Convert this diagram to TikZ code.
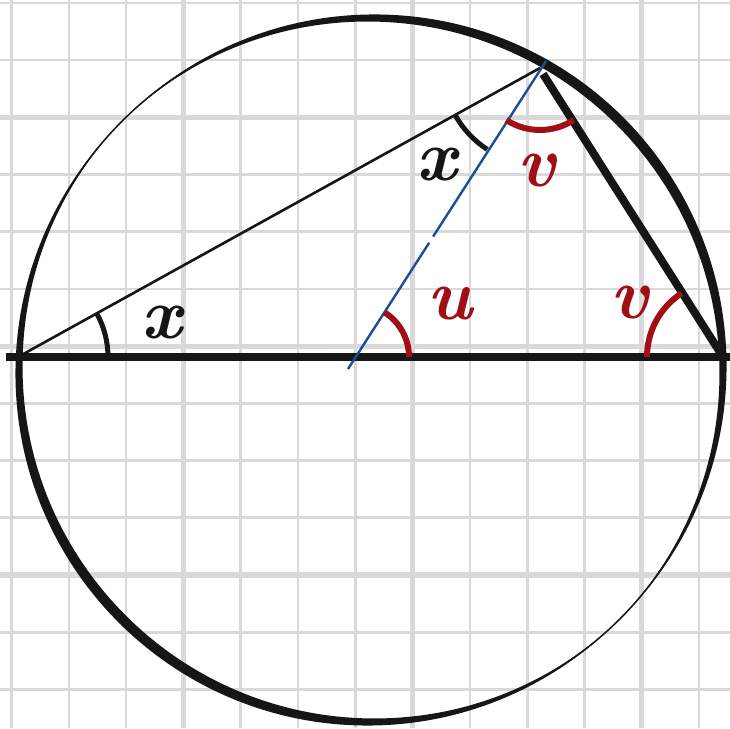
\documentclass[tikz,border=0pt]{standalone}
\usepackage{tikz}
\usetikzlibrary{calc}
\definecolor{gridgray}{HTML}{D9D9D9}
\definecolor{angred}{HTML}{A00E16}
\definecolor{radblue}{HTML}{1A4E98}
\definecolor{ink}{HTML}{161616}

\begin{document}
\begin{tikzpicture}[x=1pt,y=1pt,
    gridline/.style={gridgray,line width=2.6},
    majorline/.style={gridgray,line width=5},
    blackarc/.style={ink,line width=5},
    redarc/.style={angred,line width=6},
    anglbl/.style={font=\fontsize{72}{72}\selectfont\bfseries\itshape,inner sep=0pt}]
    \useasboundingbox (0,0) rectangle (730,728);
    \fill[white] (0,0) rectangle (730,728);
    \foreach \k in {0,...,12} {
      \draw[gridline] (11.5+57.3*\k,0) -- (11.5+57.3*\k,728);
      \draw[gridline] (0,725-57.2*\k) -- (730,725-57.2*\k);
    }
    \foreach \k in {3,7,11}
      \draw[majorline] (11.5+57.3*\k,0) -- (11.5+57.3*\k,728);
    \foreach \k in {2,6,10}
      \draw[majorline] (0,725-57.2*\k) -- (730,725-57.2*\k);

    \coordinate (O) at (371,358);
    \coordinate (A) at (18,371);
    \coordinate (B) at (723,371);
    \coordinate (C) at (540,660);
    \coordinate (C') at (543,654);
    \coordinate (M) at (348,359);
    \coordinate (T) at (546,667);
    \coordinate (S) at (356,371);
    \coordinate (L) at (6,371);
    \coordinate (R) at (730,371);

    \fill[ink,even odd rule] ($(O)+(45:5)$) circle (352) ($(O)+(225:5)$) circle (352);
    \draw[ink,line width=1.5] (O) circle (352);

    \draw[ink,line width=8] (L) -- (R);
    \draw[ink,line width=2.6] (A) -- (C);
    \draw[ink,line width=8] (C') -- (B);
    \draw[radblue,line width=2.4] (M) -- ($(M)!0.41!(T)$);
    \draw[radblue,line width=2.4] ($(M)!0.43!(T)$) -- (T);

    \draw[blackarc] (A) ++(0:90) arc[start angle=0,end angle=29,radius=90];
    \draw[blackarc] (C) ++(209:97) arc[start angle=209,end angle=237,radius=97];
    \draw[redarc] (C) ++(237:62) arc[start angle=237,end angle=303,radius=62];
    \draw[redarc] (S) ++(0:53) arc[start angle=0,end angle=57,radius=53];
    \draw[redarc] (B) ++(123:76) arc[start angle=123,end angle=180,radius=76];

    \node[anglbl,ink] (x1) at (162,405) {x};
    \node[anglbl,ink] (x2) at (437,563) {x};
    \node[anglbl,angred] (v1) at (537,558) {v};
    \node[anglbl,angred] (u) at (450,424) {u};
    \node[anglbl,angred] (v2) at (630,426) {v};
\end{tikzpicture}
\end{document}
